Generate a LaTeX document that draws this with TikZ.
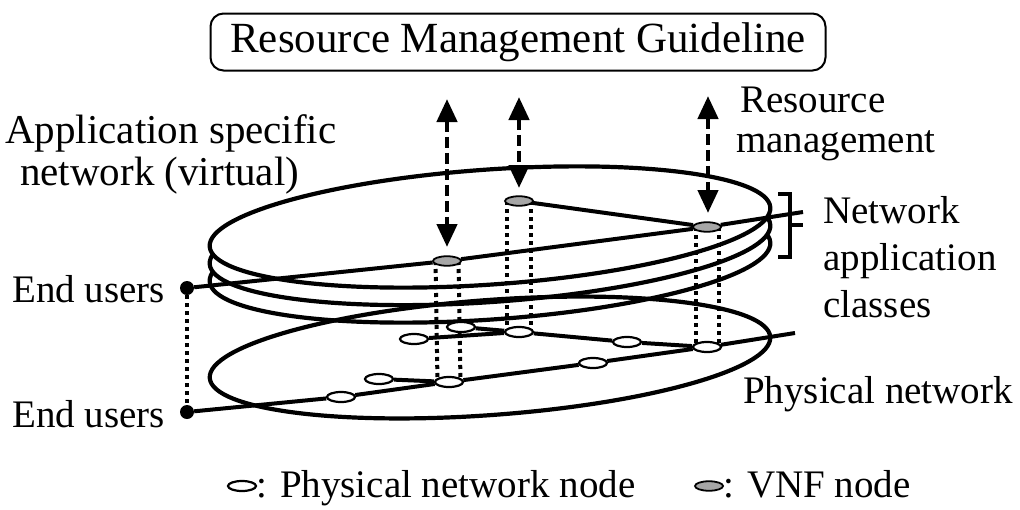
\documentclass[tikz,border=0pt]{standalone}
\usepackage{fontspec}
\setmainfont{Liberation Serif}
\usetikzlibrary{shapes.geometric,arrows.meta}
\definecolor{vnfgray}{RGB}{166,166,166}
\pgfdeclarelayer{disks}
\pgfdeclarelayer{wires}
\pgfsetlayers{disks,wires,main}
\begin{document}
\begin{tikzpicture}[x=1pt,y=-1pt,
  font=\fontsize{39}{47}\selectfont,
  disk/.style={ellipse, draw, line width=4.2pt, minimum width=562pt,
    minimum height=115pt, inner sep=0pt, rotate=4},
  lbl/.style={anchor=base west, inner sep=0pt},
  pnode/.style={ellipse, draw, fill=white, line width=2.2pt,
    minimum width=28pt, minimum height=10pt, inner sep=0pt},
  vnode/.style={ellipse, draw, fill=vnfgray, line width=1.8pt,
    minimum width=28pt, minimum height=9.5pt, inner sep=0pt},
  enduser/.style={circle, fill=black, minimum size=14pt, inner sep=0pt},
  link/.style={line width=4pt},
  plumb/.style={line width=4pt, dash pattern=on 4pt off 4pt},
  mgmt/.style={line width=4.5pt, dash pattern=on 11pt off 5pt,
    {Triangle[width=20pt,length=23pt]}-{Triangle[width=20pt,length=23pt]}},
  bracket/.style={line width=4pt}]
\useasboundingbox (0,0) rectangle (1020,509);

% guideline box
\node[draw, rounded corners=13pt, line width=2pt, minimum width=615pt,
  minimum height=57pt, inner sep=0pt, font=\fontsize{43}{50}\selectfont]
  (guide) at (518,42) {Resource Management Guideline};

% stacked application-class disks and the physical network disk
\begin{pgfonlayer}{disks}
  \node[disk, fill=white] (class3) at (490,262) {};
  \node[disk, fill=white] (class2) at (490,244.5) {};
  \node[disk, fill=white] (class1) at (490,227) {};
  \node[disk, rotate=0.2] (phys) at (490,357.5) {};
\end{pgfonlayer}

% end users
\node[enduser] (eu1) at (187,288) {};
\node[enduser] (eu2) at (187,412) {};

% VNF nodes
\node[vnode] (vA) at (447,261) {};
\node[vnode] (vB) at (519,201) {};
\node[vnode] (vC) at (707,227) {};
\coordinate (vtail) at (803,212);

% physical nodes
\node[pnode] (p1) at (341,397) {};
\node[pnode] (p2) at (379,379) {};
\node[pnode] (p3) at (414,339) {};
\node[pnode] (p4) at (461,327) {};
\node[pnode] (pA) at (449,382) {};
\node[pnode] (pB) at (519,332) {};
\node[pnode] (p7) at (627,342) {};
\node[pnode] (p8) at (593,363) {};
\node[pnode] (pC) at (707,347) {};
\coordinate (ptail) at (795,333);

\begin{pgfonlayer}{wires}
  % virtual network
  \draw[link] (eu1) -- (vA) -- (vC) -- (vtail);
  \draw[link] (vB) -- (vC);
  % physical network
  \draw[link] (eu2) -- (p1) -- (pA) -- (p8) -- (pC) -- (ptail);
  \draw[link] (p2) -- (pA);
  \draw[link] (p3) -- (pB);
  \draw[link] (p4) -- (pB);
  \draw[link] (pB) -- (p7) -- (pC);
  % mapping of VNF nodes onto physical nodes
  \draw[plumb] ([xshift=-11.5pt]vA.center) -- ([xshift=-11.5pt]pA.center);
  \draw[plumb] ([xshift=11.5pt]vA.center) -- ([xshift=11.5pt]pA.center);
  \draw[plumb] ([xshift=-12pt]vB.center) -- ([xshift=-12pt]pB.center);
  \draw[plumb] ([xshift=12pt]vB.center) -- ([xshift=12pt]pB.center);
  \draw[plumb] ([xshift=-11.5pt]vC.center) -- ([xshift=-11.5pt]pC.center);
  \draw[plumb] ([xshift=11.5pt]vC.center) -- ([xshift=11.5pt]pC.center);
  \draw[plumb] (eu1) -- (eu2);
\end{pgfonlayer}

% resource management arrows
\coordinate (m1t) at (447,99);
\coordinate (m1b) at (447,247);
\coordinate (m2t) at (519,97);
\coordinate (m2b) at (519,188);
\coordinate (m3t) at (708,96);
\coordinate (m3b) at (708,213);
\draw[mgmt] (m1t) -- (m1b);
\draw[mgmt] (m2t) -- (m2b);
\draw[mgmt] (m3t) -- (m3b);

% bracket for the application classes
\coordinate (br1) at (778,194);
\coordinate (br2) at (790,194);
\coordinate (br3) at (790,257);
\coordinate (br4) at (778,257);
\coordinate (brm) at (790,225);
\coordinate (brt) at (803,225);
\draw[bracket] (br1) -- (br2) -- (br3) -- (br4);
\draw[bracket] (brm) -- (brt);

% labels
\node[lbl, font=\fontsize{41}{49}\selectfont] (app1) at (5,143) {Application specific};
\node[lbl, font=\fontsize{41}{49}\selectfont] (app2) at (20,185) {network (virtual)};
\node[lbl] (res1) at (740,112) {Resource};
\node[lbl] (res2) at (736,152) {management};
\node[lbl] (cls1) at (823,223) {Network};
\node[lbl] (cls2) at (823,270) {application};
\node[lbl] (cls3) at (823,317) {classes};
\node[lbl] (eul1) at (12,302) {End users};
\node[lbl] (eul2) at (12,427) {End users};
\node[lbl] (physl) at (743,403) {Physical network};

% legend
\node[pnode, minimum width=28pt] (lgp) at (242,486) {};
\node[lbl] (lgpt) at (256,497) {: Physical network node};
\node[vnode, minimum width=28pt] (lgv) at (709,486) {};
\node[lbl] (lgvt) at (723,497) {: VNF node};
\end{tikzpicture}
\end{document}
